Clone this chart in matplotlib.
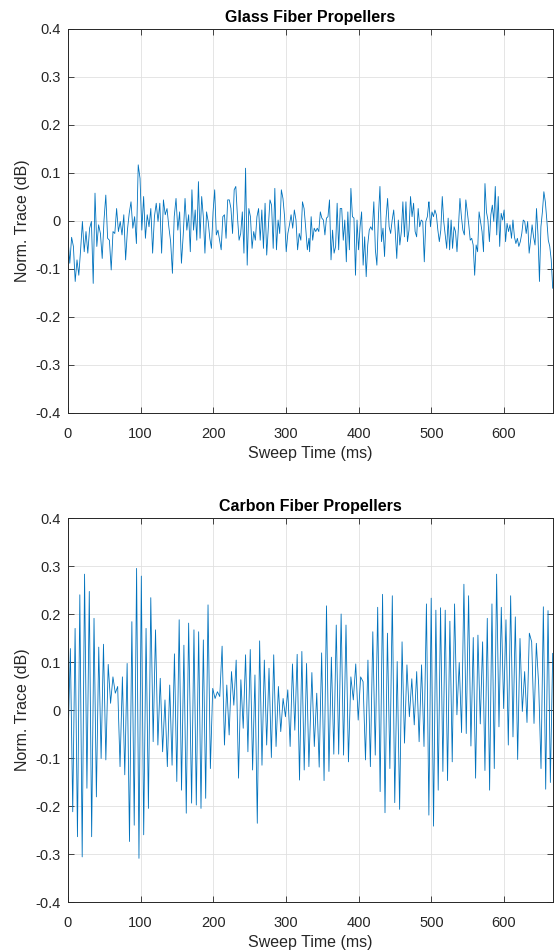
import numpy as np
import matplotlib
matplotlib.use('Agg')
import matplotlib.pyplot as plt
from matplotlib.ticker import FuncFormatter

plt.rcParams['font.family'] = ['Liberation Sans', 'DejaVu Sans']
plt.rcParams['axes.unicode_minus'] = False

# ---- data (norm. trace in dB), split in four chunks per trace ----
# chunk time spans in ms
glass_spans = [(0, 166), (168.3, 331.6), (332.5, 496.6), (496.8, 667)]
carbon_spans = [(0, 166), (170.1, 331.5), (335.6, 496.6), (499.8, 667)]

glass_1 = [-0.036, -0.088, -0.034, -0.053, -0.126, -0.081, -0.113, -0.060, -0.001, -0.064,
           -0.022, -0.067, -0.015, -0.001, -0.130, 0.058, -0.053, -0.008, -0.026, -0.078,
           0.002, 0.054, -0.036, -0.040, -0.102, -0.022, -0.026, 0.026, -0.022, -0.001,
           -0.029, 0.013, -0.081, -0.019, 0.016, 0.040, -0.015, 0.009, -0.047, 0.117,
           0.089, -0.019, 0.051, -0.036, 0.013, -0.012, 0.026, -0.067, 0.009, 0.037,
           -0.001, 0.037, -0.067, 0.044, 0.013, 0.026, -0.012, -0.043, -0.109, 0.009,
           0.047, -0.019, 0.019, -0.088, -0.029, 0.047, -0.019, 0.013]
glass_2 = [-0.064, 0.065, -0.019, 0.023, -0.040, 0.082, -0.036, 0.051, 0.009, -0.067,
           0.019, -0.001, -0.036, -0.057, 0.019, 0.065, -0.029, -0.019, -0.040, -0.060,
           0.009, 0.013, -0.036, 0.044, 0.044, 0.026, -0.026, 0.065, 0.072, 0.009,
           -0.040, -0.026, 0.019, -0.067, 0.110, -0.092, 0.026, 0.009, -0.057, -0.022,
           -0.040, 0.009, 0.026, -0.040, 0.023, -0.057, 0.037, -0.071, -0.012, 0.044,
           0.033, -0.057, 0.068, -0.060, 0.002, -0.026, 0.065, 0.047, 0.009, -0.064,
           -0.026, -0.008, 0.013, -0.015, 0.023, 0.002, -0.060, -0.026, -0.040, 0.040,
           0.026, -0.015, -0.060, -0.036]
glass_3 = [-0.064, 0.009, -0.040, -0.015, -0.022, -0.015, -0.022, 0.019, 0.006, 0.002,
           -0.029, 0.006, 0.009, 0.044, -0.081, -0.019, -0.067, -0.053, 0.037, -0.060,
           0.026, 0.026, -0.040, 0.002, -0.085, 0.019, -0.060, 0.068, 0.009, 0.006,
           -0.113, 0.002, -0.060, -0.012, 0.019, -0.092, -0.033, -0.116, -0.050, -0.019,
           -0.012, -0.019, 0.040, -0.060, -0.092, 0.009, 0.072, -0.043, -0.015, -0.074,
           0.006, 0.047, -0.012, -0.026, 0.002, 0.023, -0.022, -0.078, 0.002, -0.050,
           -0.022, 0.040, -0.033, 0.040, -0.043, -0.019, 0.051, 0.009, 0.037, -0.022,
           -0.033, 0.026, -0.012, 0.002, -0.001, -0.085, -0.001, 0.009, 0.040]
glass_4 = [0.040, -0.012, 0.019, 0.009, 0.023, 0.013, -0.019, -0.043, -0.019, 0.051,
           -0.001, -0.029, -0.057, 0.006, -0.060, 0.002, -0.057, -0.012, -0.022, -0.064,
           -0.012, 0.047, 0.009, -0.019, -0.029, 0.044, 0.019, -0.008, -0.040, -0.036,
           -0.050, -0.113, -0.050, -0.064, 0.019, -0.001, -0.022, -0.064, 0.078, 0.019,
           0.002, -0.043, 0.013, 0.033, -0.001, 0.072, -0.029, 0.051, -0.053, 0.016,
           0.002, 0.023, -0.043, -0.005, -0.022, -0.008, -0.036, 0.002, -0.033, -0.047,
           -0.036, -0.053, -0.043, -0.026, 0.002, -0.001, -0.026, -0.001, -0.067, -0.040,
           -0.008, -0.033, -0.050, 0.026, -0.029, -0.126, -0.012, 0.019, 0.061, 0.040,
           0.002, -0.040, -0.053, -0.081, -0.140]

carbon_1 = [-0.066, 0.128, -0.212, 0.170, -0.264, 0.240, -0.306, 0.283, -0.163, 0.247,
            -0.264, 0.191, -0.181, 0.131, -0.101, 0.137, -0.104, 0.095, 0.014, 0.069,
            0.035, 0.049, -0.118, 0.069, -0.135, 0.097, -0.274, 0.184, -0.240, 0.295,
            -0.309, 0.279, -0.260, 0.170, -0.205, 0.234, -0.066, 0.167, -0.073, 0.066,
            -0.087, 0.021, -0.118, 0.052, -0.115, 0.117, -0.149, 0.188, -0.167, 0.135,
            -0.215, 0.181]
carbon_2 = [-0.194, 0.167, -0.198, 0.163, -0.205, 0.146, -0.184, 0.219, -0.122, 0.045,
            0.024, 0.038, 0.028, 0.133, -0.073, 0.052, -0.052, 0.080, 0.010, 0.104,
            -0.142, 0.063, -0.038, 0.115, -0.087, 0.126, -0.125, 0.073, -0.236, 0.144,
            -0.115, 0.104, -0.073, 0.087, -0.099, 0.115, -0.076, 0.049, -0.045, 0.024,
            -0.014, 0.042, -0.076, 0.096, -0.042, 0.116, -0.146, 0.122, -0.125, 0.097,
            -0.118]
carbon_3 = [0.078, -0.076, 0.035, -0.119, 0.119, -0.147, 0.217, -0.128, 0.110, -0.092,
            0.177, -0.092, 0.200, -0.094, 0.177, -0.108, 0.069, 0.021, 0.096, -0.021,
            0.069, 0.059, -0.104, 0.104, -0.118, 0.163, -0.094, 0.214, -0.170, 0.241,
            -0.214, 0.160, -0.122, 0.238, -0.193, 0.101, -0.207, 0.142, -0.069, 0.094,
            -0.014, 0.065, -0.031, 0.080, -0.066, 0.094, -0.076, 0.221, -0.219]
carbon_4 = [0.233, -0.242, 0.208, -0.167, 0.213, -0.128, 0.208, -0.147, 0.185, -0.108,
            0.221, -0.010, 0.099, -0.047, 0.262, -0.049, 0.238, -0.075, 0.151, -0.142,
            0.156, -0.029, 0.142, -0.126, 0.191, -0.167, 0.221, -0.122, 0.283, -0.035,
            0.214, 0.003, 0.188, -0.073, 0.238, -0.056, 0.194, -0.103, 0.149, -0.003,
            0.080, -0.026, 0.160, 0.142, -0.028, 0.139, 0.052, -0.122, 0.215, -0.165,
            0.207, -0.151, 0.118]

titles = ['Glass Fiber Propellers', 'Carbon Fiber Propellers']
xticks = [0, 100, 200, 300, 400, 500, 600]
yticks = [-0.4, -0.3, -0.2, -0.1, 0, 0.1, 0.2, 0.3, 0.4]


def build(chunks, spans):
    t, v = [], []
    for c, (a, b) in zip(chunks, spans):
        t.append(np.linspace(a, b, len(c)))
        v.append(np.array(c))
    return np.concatenate(t), np.concatenate(v)


t_glass, v_glass = build([glass_1, glass_2, glass_3, glass_4], glass_spans)
t_carbon, v_carbon = build([carbon_1, carbon_2, carbon_3, carbon_4], carbon_spans)

dark = '#262626'
f = plt.figure(figsize=(5.55, 9.51), dpi=100)
ax1 = f.add_axes([68 / 555, 1 - 413 / 951, (552.7 - 68) / 555, 384 / 951])
ax2 = f.add_axes([68 / 555, 1 - 902 / 951, (552.7 - 68) / 555, 384 / 951])

for ax, (t, v), title in zip([ax1, ax2], [(t_glass, v_glass), (t_carbon, v_carbon)], titles):
    ax.plot(t, v, color='#0072BD', lw=0.6)
    ax.set_xlim(0, 667)
    ax.set_ylim(-0.4, 0.4)
    ax.set_xticks(xticks)
    ax.set_yticks(yticks)
    ax.yaxis.set_major_formatter(FuncFormatter(lambda y, p: '%g' % round(y, 1)))
    ax.grid(True, color='#e0e0e0', lw=0.6)
    ax.set_axisbelow(True)
    ax.tick_params(direction='in', top=True, right=True, length=4, width=0.6,
                   colors=dark, labelsize=10.5)
    ax.tick_params(axis='x', pad=10)
    ax.tick_params(axis='y', pad=5)
    for s in ax.spines.values():
        s.set_color(dark)
        s.set_linewidth(0.7)
    ax.set_xlabel('Sweep Time (ms)', fontsize=11.5, color=dark, labelpad=4)
    ax.set_ylabel('Norm. Trace (dB)', fontsize=11.5, color=dark, labelpad=4)
    ax.set_title(title, fontsize=11.5, fontweight='bold', color='black', pad=5)

f.savefig('out.png', dpi=100)
